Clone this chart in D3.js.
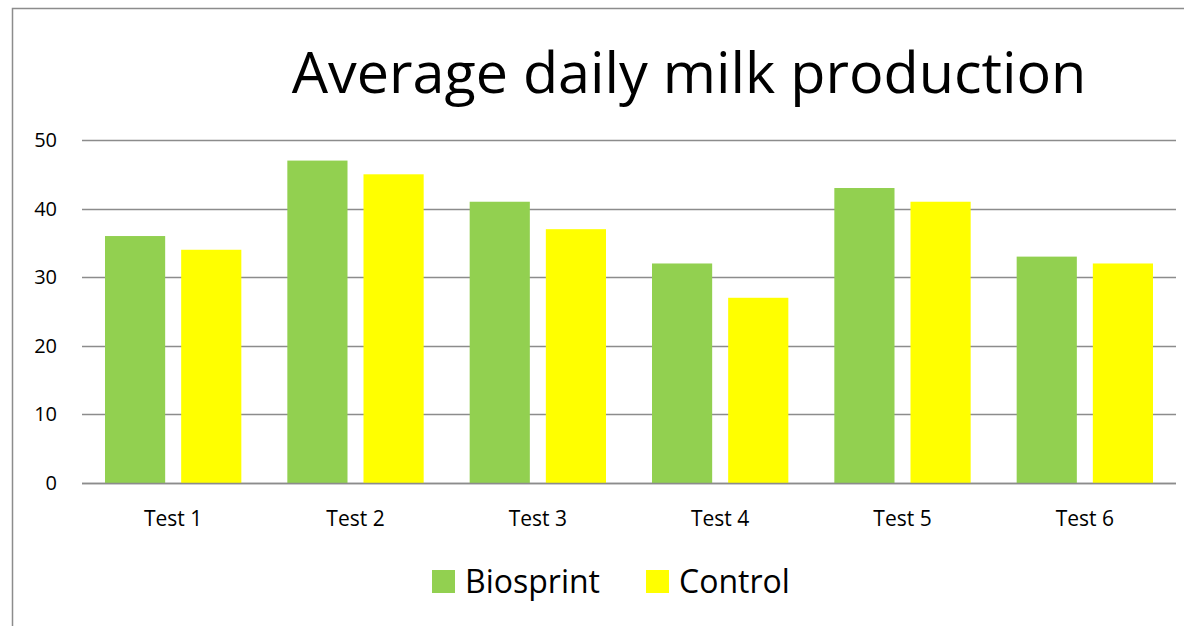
<!DOCTYPE html>
<html lang="en">
<head>
<meta charset="utf-8">
<style>
  body { margin: 0; background: #fff; }
  svg text { font-family: "Open Sans", "Noto Sans", sans-serif; fill: #000; }
</style>
</head>
<body>
<svg id="chart" width="1184" height="626"></svg>
<script src="https://d3js.org/d3.v7.min.js"></script>
<script>
// data
var categories = ["Test 1", "Test 2", "Test 3", "Test 4", "Test 5", "Test 6"];
var seriesNames = ["Biosprint", "Control"];
var biosprint = [36, 47, 41, 32, 43, 33];
var control = [34, 45, 37, 27, 41, 32];
var yTicks = [0, 10, 20, 30, 40, 50];
var colors = ["#92d050", "#ffff00"];

var svg = d3.select("#chart");

// outer frame (runs off the right / bottom edge)
svg.append("rect")
  .attr("x", 12.5).attr("y", 8.5)
  .attr("width", 1190).attr("height", 640)
  .attr("fill", "none")
  .attr("stroke", "#8c8c8c")
  .attr("stroke-width", 1.5);

var plotL = 82, plotR = 1176, plotT = 140, plotB = 483;

var x = d3.scaleBand().domain(categories).range([plotL, plotR]);
var xs = d3.scaleBand().domain(seriesNames)
  .range([23, x.bandwidth() - 23]).paddingInner(0.21);
var y = d3.scaleLinear().domain([0, 50]).range([plotB, plotT]);

// gridlines
svg.append("g").selectAll("line")
  .data(yTicks)
  .enter().append("line")
  .attr("x1", plotL).attr("x2", plotR)
  .attr("y1", function (d) { return Math.round(y(d)) + 0.5; })
  .attr("y2", function (d) { return Math.round(y(d)) + 0.5; })
  .attr("stroke", "#8c8c8c")
  .attr("stroke-width", 1.5);

// y labels
svg.append("g").selectAll("text")
  .data(yTicks)
  .enter().append("text")
  .attr("x", 57)
  .attr("y", function (d) { return y(d); })
  .attr("dy", "0.35em")
  .attr("text-anchor", "end")
  .attr("font-size", "20px")
  .text(function (d) { return d; });

// bars
var rows = categories.map(function (c, i) {
  return { cat: c, vals: [biosprint[i], control[i]] };
});

var groups = svg.append("g").selectAll("g")
  .data(rows)
  .enter().append("g")
  .attr("transform", function (d) { return "translate(" + x(d.cat) + ",0)"; });

groups.selectAll("rect")
  .data(function (d) {
    return d.vals.map(function (v, j) { return { name: seriesNames[j], v: v, j: j }; });
  })
  .enter().append("rect")
  .attr("x", function (d) { return xs(d.name); })
  .attr("width", xs.bandwidth())
  .attr("y", function (d) { return y(d.v); })
  .attr("height", function (d) { return plotB - y(d.v); })
  .attr("fill", function (d) { return colors[d.j]; });

// redraw the zero line over bars
svg.append("line")
  .attr("x1", plotL).attr("x2", plotR)
  .attr("y1", Math.round(y(0)) + 0.5).attr("y2", Math.round(y(0)) + 0.5)
  .attr("stroke", "#8c8c8c").attr("stroke-width", 1.5);

// x labels
svg.append("g").selectAll("text")
  .data(categories)
  .enter().append("text")
  .attr("x", function (d) { return x(d) + x.bandwidth() / 2; })
  .attr("y", 526)
  .attr("text-anchor", "middle")
  .attr("font-size", "21px")
  .text(function (d) { return d; });

// title
svg.append("text")
  .attr("x", 689).attr("y", 93)
  .attr("text-anchor", "middle")
  .attr("font-size", "57.5px")
  .text("Average daily milk production");

// legend
var legendX = [432, 646];
var legend = svg.append("g").selectAll("g")
  .data(seriesNames)
  .enter().append("g")
  .attr("transform", function (d, i) { return "translate(" + legendX[i] + ",570)"; });
legend.append("rect")
  .attr("width", 23).attr("height", 23)
  .attr("fill", function (d, i) { return colors[i]; });
legend.append("text")
  .attr("x", 33).attr("y", 23)
  .attr("font-size", "32px")
  .text(function (d) { return d; });
</script>
</body>
</html>
